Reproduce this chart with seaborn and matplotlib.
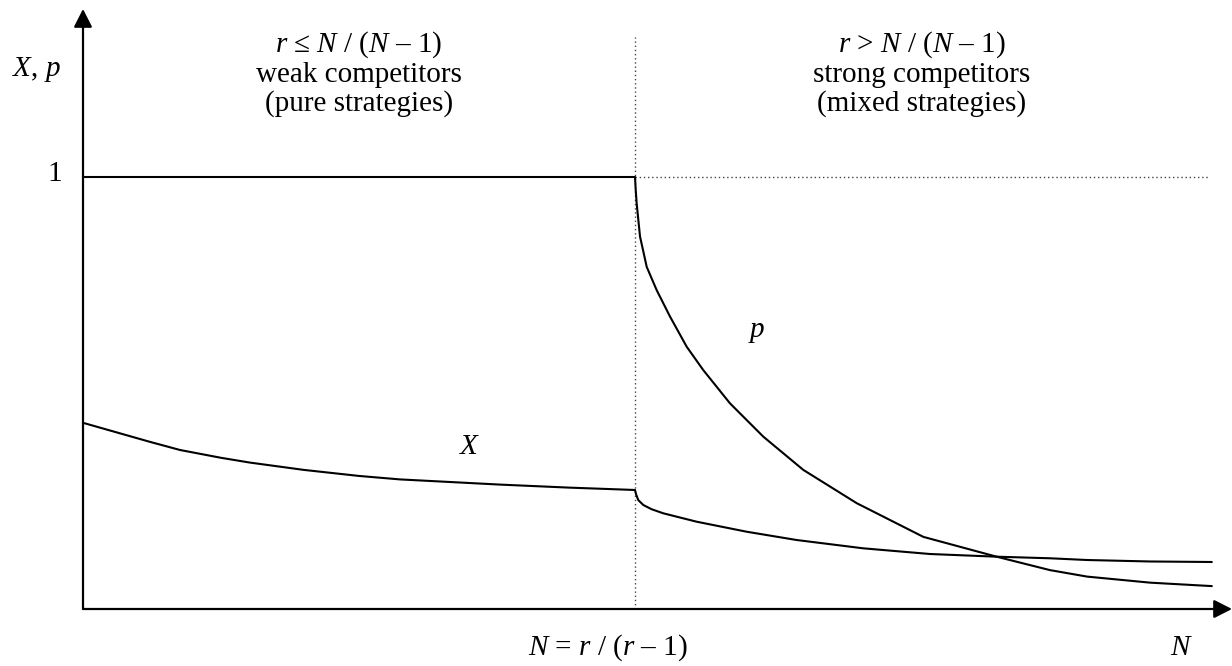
import matplotlib
matplotlib.use("Agg")
import matplotlib.pyplot as plt
import seaborn as sns
import pandas as pd

sns.set_theme(style="white")
plt.rcParams['font.family'] = ['Liberation Serif', 'DejaVu Serif']
plt.rcParams['mathtext.fontset'] = 'custom'
plt.rcParams['mathtext.rm'] = 'Liberation Serif'
plt.rcParams['mathtext.it'] = 'Liberation Serif:italic'

# ---- data (N in units of the threshold N = r/(r-1) = 1) ----
X_N = [0.0, 0.121, 0.176, 0.25, 0.302, 0.40, 0.50, 0.574, 0.755, 0.88, 1.0,
       1.0018, 1.006, 1.0151, 1.03, 1.0513, 1.1116, 1.2022, 1.2928, 1.4132,
       1.5344, 1.6553, 1.7518, 1.819, 1.933, 2.045]
X_val = [0.431, 0.387, 0.368, 0.350, 0.339, 0.322, 0.308, 0.300, 0.288, 0.281, 0.2755,
         0.266, 0.252, 0.2407, 0.231, 0.2215, 0.2021, 0.1789, 0.1597, 0.1405,
         0.1273, 0.1211, 0.1174, 0.1134, 0.110, 0.1088]

p_N = [0.0, 1.0, 1.0013, 1.003, 1.0091, 1.0145, 1.0212, 1.0393, 1.0634, 1.0937,
       1.1237, 1.1721, 1.2324, 1.3049, 1.4016, 1.5223, 1.6553, 1.7518, 1.819,
       1.933, 2.045]
p_val = [1.0, 1.0, 0.970, 0.939, 0.862, 0.831, 0.792, 0.738, 0.677, 0.607,
         0.553, 0.476, 0.399, 0.322, 0.245, 0.167, 0.121, 0.090, 0.075,
         0.061, 0.053]

threshold_N = 1.0
N_end = 2.042
region_labels = ["$r$ ≤ $N$ / ($N$ – 1)\nweak competitors\n(pure strategies)",
                 "$r$ > $N$ / ($N$ – 1)\nstrong competitors\n(mixed strategies)"]
y_tick_label = "1"

W, H = 1232, 666
fig = plt.figure(figsize=(W / 100, H / 100), dpi=100)
ax = fig.add_axes([0, 0, 1, 1])

# pixel mapping: origin at (83, 609), N=1 at px 635, value 1 at py 177
x0, y0, sx, sy = 83, 609, 552, 432

def px(xp, yp):
    return (xp - x0) / sx, (y0 - yp) / sy

# dotted guide lines
dot = dict(color='#444444', lw=1.0, ls=(0, (1, 2.0)))
ax.plot([threshold_N, threshold_N], [0, px(0, 37)[1]], **dot)
ax.plot([threshold_N, N_end], [1, 1], **dot)

dfX = pd.DataFrame({"N": X_N, "v": X_val})
dfp = pd.DataFrame({"N": p_N, "v": p_val})
sns.lineplot(data=dfX, x="N", y="v", ax=ax, color='black', lw=1.5, sort=False,
             estimator=None)
sns.lineplot(data=dfp, x="N", y="v", ax=ax, color='black', lw=1.5, sort=False,
             estimator=None)
ax.set_xlim((0 - x0) / sx, (W - x0) / sx)
ax.set_ylim((y0 - H) / sy, (y0 - 0) / sy)
ax.axis('off')

# axes arrows
arrow = dict(arrowstyle='-|>,head_length=0.55,head_width=0.28', color='black',
             lw=1.6, shrinkA=0, shrinkB=0, mutation_scale=20)
ax.annotate('', xy=px(83, 9), xytext=(0, 0), arrowprops=arrow)
ax.annotate('', xy=px(1232, 609), xytext=(0, 0), arrowprops=arrow)

fs = 21
def ftext(xp, yp, s, **kw):
    fig.text(xp / W, 1 - yp / H, s, fontsize=fs, color='black',
             ha=kw.pop('ha', 'center'), va=kw.pop('va', 'center'), **kw)

ftext(359, 73, region_labels[0], linespacing=1.1)
ftext(922, 73, region_labels[1], linespacing=1.1)
ftext(37, 70, "$X$, $p$")
ftext(55, 174, y_tick_label)
ftext(470, 447, "$X$")
ftext(757, 332, "$p$")
ftext(608, 648, "$N$ = $r$ / ($r$ – 1)")
ftext(1182, 648, "$N$")

fig.savefig("out.png", dpi=100)
